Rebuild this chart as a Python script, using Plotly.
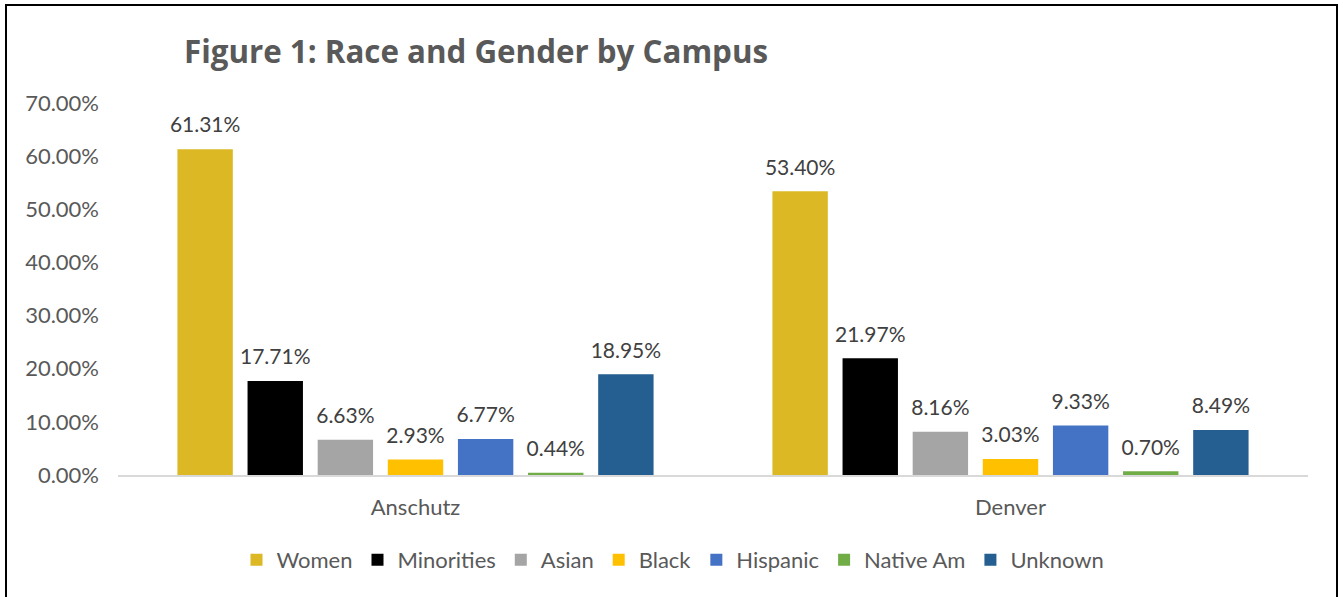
import plotly.graph_objects as go

campuses = ["Anschutz", "Denver"]
series_names = ["Women", "Minorities", "Asian", "Black", "Hispanic", "Native Am", "Unknown"]
women = [0.6131, 0.5340]
minorities = [0.1771, 0.2197]
asian = [0.0663, 0.0816]
black = [0.0293, 0.0303]
hispanic = [0.0677, 0.0933]
native_am = [0.0044, 0.0070]
unknown = [0.1895, 0.0849]
colors = ["#DBB824", "#000000", "#A5A5A5", "#FFC000", "#4472C4", "#70AD47", "#255E91"]

values = [women, minorities, asian, black, hispanic, native_am, unknown]
FONT = "Lato"

fig = go.Figure()
for name, vals, col in zip(series_names, values, colors):
    fig.add_trace(go.Bar(
        name=name, x=campuses, y=vals, marker=dict(color=col, line=dict(width=0)),
        text=[f"{v*100:.2f}%" for v in vals], textposition="outside", constraintext="none",
        texttemplate="<span style='font-size:21px'>%{text}</span><br> ",
        textfont=dict(family=FONT, size=9, color="#404040"), cliponaxis=False,
    ))

W, H = 1343, 597
L, R, T, B = 118, 35, 103, 122
pw, ph = W - L - R, H - T - B

def px(x):
    return (x - L) / pw

def py(y):
    return (H - B - y) / ph

fig.update_layout(
    width=W, height=H,
    margin=dict(l=L, r=R, t=T, b=B),
    paper_bgcolor="white", plot_bgcolor="white",
    barmode="group", bargap=0.175, bargroupgap=0.21,
    font=dict(family=FONT, color="#595959"),
    title=dict(text="<b>Figure 1: Race and Gender by Campus</b>", xref="container", yref="container",
               x=184 / W, xanchor="left", y=1 - 52 / H, yanchor="middle",
               font=dict(family="Open Sans", size=31.3, color="#595959")),
    yaxis=dict(range=[0, 0.7], dtick=0.1, tickformat=".2%", showgrid=False, zeroline=False,
               showline=False, ticks="", ticklabelstandoff=18,
               tickfont=dict(family=FONT, size=22, color="#595959")),
    xaxis=dict(showline=True, linecolor="#D9D9D9", linewidth=2, ticks="", ticklabelstandoff=12,
               tickfont=dict(family=FONT, size=22, color="#595959")),
    legend=dict(orientation="h", x=px(673), xanchor="center", y=py(560), yanchor="middle",
                font=dict(family=FONT, size=22, color="#595959"), itemwidth=30, traceorder="normal"),
    showlegend=True,
    shapes=[dict(type="rect", xref="paper", yref="paper", x0=px(6), x1=px(1337), y0=py(640), y1=py(5),
                 line=dict(color="black", width=2), fillcolor="rgba(0,0,0,0)", layer="below")],
)

fig.write_html("out.html")
